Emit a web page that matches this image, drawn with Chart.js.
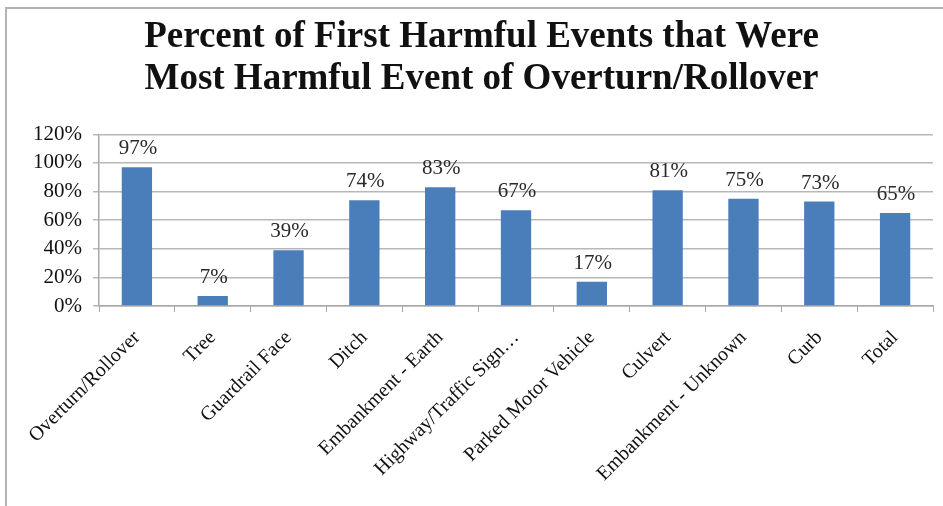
<!DOCTYPE html>
<html>
<head>
<meta charset="utf-8">
<script src="https://cdn.jsdelivr.net/npm/chart.js@4.4.1/dist/chart.umd.min.js"></script>
<style>
    html, body { margin: 0; padding: 0; background: #fff; }
    #wrap { position: relative; width: 943px; height: 506px; overflow: hidden; }
    #frame {
        position: absolute; left: 5px; top: 7px; width: 960px; height: 520px;
        border-top: 2px solid #b4b4b4; border-left: 2px solid #b4b4b4;
    }
    #chartEvents { position: absolute; left: 0; top: 0; }
</style>
</head>
<body>
<div id="wrap">
    <div id="frame"></div>
    <canvas id="chartEvents" width="943" height="506"></canvas>
</div>
<script>
// ===== DATA =====
const categories = [
    "Overturn/Rollover", "Tree", "Guardrail Face", "Ditch", "Embankment - Earth",
    "Highway/Traffic Sign…", "Parked Motor Vehicle", "Culvert", "Embankment - Unknown",
    "Curb", "Total"
];
const percents = [97, 7, 39, 74, 83, 67, 17, 81, 75, 73, 65];
const titleLines = [
    "Percent of First Harmful Events that Were",
    "Most Harmful Event of Overturn/Rollover"
];

const serif = "'Liberation Serif', 'Times New Roman', serif";

// value labels over each bar
const barLabels = {
    id: "barLabels",
    afterDatasetsDraw(chart) {
        const ctx = chart.ctx;
        const meta = chart.getDatasetMeta(0);
        ctx.save();
        ctx.font = "21px " + serif;
        ctx.fillStyle = "#2a2a2a";
        ctx.textAlign = "center";
        ctx.textBaseline = "bottom";
        meta.data.forEach((bar, i) => {
            ctx.fillText(percents[i] + "%", bar.x + 1, bar.y - 8);
        });
        ctx.restore();
    }
};

new Chart(document.getElementById("chartEvents"), {
    type: "bar",
    data: {
        labels: categories,
        datasets: [{
            data: percents,
            backgroundColor: "#4a7ebb",
            borderWidth: 0,
            barPercentage: 0.4,
            categoryPercentage: 1.0
        }]
    },
    options: {
        responsive: false,
        animation: false,
        layout: { padding: { left: 30, right: 10, top: 0, bottom: 0 } },
        plugins: {
            legend: { display: false },
            tooltip: { enabled: false },
            title: {
                display: true,
                text: titleLines,
                color: "#111",
                font: { family: serif, size: 37, weight: "bold", lineHeight: 1.14 },
                padding: { top: 16, bottom: 34 }
            }
        },
        scales: {
            x: {
                grid: {
                    offset: true,
                    drawOnChartArea: false,
                    drawTicks: true,
                    tickLength: 6,
                    color: "#a8a8a8"
                },
                border: { color: "#a8a8a8", width: 1.5 },
                ticks: {
                    color: "#111",
                    font: { family: serif, size: 20 },
                    minRotation: 45,
                    maxRotation: 45,
                    autoSkip: false,
                    padding: 14
                },
                afterFit(scale) { scale.height = 200; }
            },
            y: {
                min: 0,
                max: 120,
                ticks: {
                    stepSize: 20,
                    color: "#111",
                    font: { family: serif, size: 21 },
                    padding: 11,
                    callback: v => v + "%"
                },
                grid: { color: "#b8b8b8", lineWidth: 1.5, tickLength: 6 },
                border: { color: "#a8a8a8", width: 1.5 },
                afterFit(scale) { scale.width = 69; }
            }
        }
    },
    plugins: [barLabels]
});
</script>
</body>
</html>
